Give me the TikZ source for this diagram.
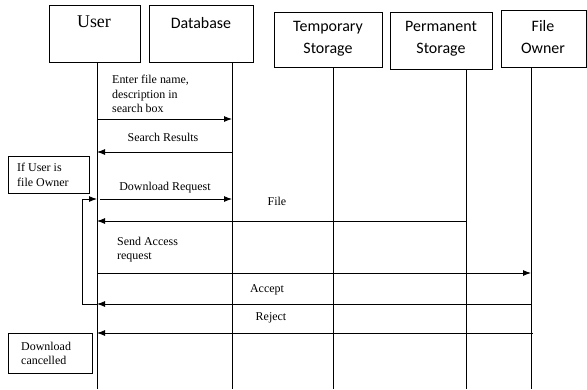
\documentclass[tikz,border=0pt]{standalone}
\usepackage{fontspec}
\setmainfont{Liberation Serif}
\newfontfamily\calib{Carlito}
\usetikzlibrary{arrows.meta}
\begin{document}
\begin{tikzpicture}[x=1bp,y=-1bp,
  hbox/.style={draw,line width=0.9bp,minimum width=#1,inner sep=0pt},
  hdrS/.style={font=\calib\fontsize{16}{22}\selectfont,align=center,inner sep=0pt},
  hdrT/.style={font=\fontsize{18}{22}\selectfont,inner sep=0pt},
  life/.style={line width=0.9bp},
  msg/.style={line width=0.9bp,-{Latex[length=8bp,width=6bp]}},
  lbl/.style={font=\fontsize{12}{14.5}\selectfont,inner sep=0pt},
  note/.style={draw,line width=0.9bp,inner sep=0pt}]
\useasboundingbox (0,0) rectangle (587,389);
% header boxes
\node[hbox=91bp,minimum height=57bp] (userB) at (94.5,33.5) {};
\node[hbox=104bp,minimum height=57bp] (dbB) at (201,33.5) {};
\node[hbox=108bp,minimum height=55bp] (tmpB) at (328,39.5) {};
\node[hbox=102bp,minimum height=57bp] (permB) at (441,40.5) {};
\node[hbox=85bp,minimum height=57bp] (ownB) at (543.5,38.5) {};
\node[hdrT] (userT) at (94,22) {User};
\node[hdrS] (dbT) at (201,23) {Database};
\node[hdrS] (tmpT) at (328,39) {Temporary\\Storage};
\node[hdrS] (permT) at (441,39) {Permanent\\Storage};
\node[hdrS] (ownT) at (543,37) {File\\Owner};
% lifelines
\coordinate (uL) at (97,62);   \coordinate (uE) at (97,389);
\coordinate (dL) at (232,62);  \coordinate (dE) at (232,389);
\coordinate (tL) at (333,67);  \coordinate (tE) at (333,389);
\coordinate (pL) at (466,69);  \coordinate (pE) at (466,389);
\coordinate (oL) at (531,67);  \coordinate (oE) at (531,389);
\draw[life] (uL) -- (uE);
\draw[life] (dL) -- (dE);
\draw[life] (tL) -- (tE);
\draw[life] (pL) -- (pE);
\draw[life] (oL) -- (oE);
% message levels
\coordinate (y1) at (0,119);
\coordinate (y2) at (0,152);
\coordinate (y3) at (0,199);
\coordinate (y4) at (0,221);
\coordinate (y5) at (0,273);
\coordinate (y6) at (0,304);
\coordinate (y7) at (0,333);
\coordinate (dlS) at (100,199);
\coordinate (loopT) at (82,199);
\coordinate (loopB) at (82,304);
\coordinate (rjS) at (533,333);
% messages
\draw[msg] (uL |- y1) -- (dL |- y1);
\draw[msg] (dL |- y2) -- (uL |- y2);
\draw[msg] (dlS) -- (dL |- y3);
\draw[msg] (pL |- y4) -- (uL |- y4);
\draw[msg] (uL |- y5) -- (oL |- y5);
\draw[msg] (oL |- y6) -- (uL |- y6);
\draw[msg] (rjS) -- (uL |- y7);
\draw[msg] (uL |- y6) -- (loopB) -- (loopT) -- (uL |- y3);
% labels
\node[lbl,align=left,anchor=north west] (m1) at (112,75) {Enter file name,\\description in\\search box};
\node[lbl] (m2) at (163,137) {Search Results};
\node[lbl] (m3) at (165,188) {Download Request};
\node[lbl] (m4) at (277,201) {File};
\node[lbl,align=left,anchor=north west] (m5) at (117,237) {Send Access\\request};
\node[lbl] (m6) at (267,290) {Accept};
\node[lbl] (m7) at (271,318) {Reject};
% notes
\draw[note] (8,156) rectangle (89,193);
\node[lbl,align=left,anchor=north west] (n1) at (17,163) {If User is\\file Owner};
\draw[note] (8,333) rectangle (92,373);
\node[lbl,align=left,anchor=north west] (n2) at (21,342) {Download\\cancelled};
\end{tikzpicture}
\end{document}
